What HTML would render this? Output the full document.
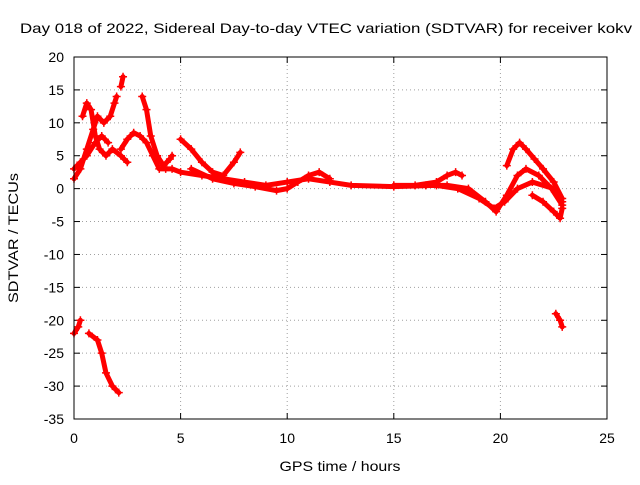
<!DOCTYPE html>
<html><head><meta charset="utf-8"><style>
body{margin:0;background:#fff;font-family:"Liberation Sans",sans-serif}
svg text{font-family:"Liberation Sans",sans-serif;font-size:14px;fill:#000}
</style></head><body>
<svg id="c" width="640" height="480">
<text x="326" y="33" text-anchor="middle" textLength="612" lengthAdjust="spacingAndGlyphs">Day 018 of 2022, Sidereal Day-to-day VTEC variation (SDTVAR) for receiver kokv</text>
<text x="340" y="471" text-anchor="middle" textLength="121" lengthAdjust="spacingAndGlyphs">GPS time / hours</text>
<text x="18" y="238" text-anchor="middle" textLength="130" lengthAdjust="spacingAndGlyphs" transform="rotate(-90 18 238)">SDTVAR / TECUs</text>
<g id="grid"></g><g id="marks"></g>
<rect x="74" y="57" width="533" height="362" fill="none" stroke="#000"/>
</svg>
<script>
const xTicks=[0,5,10,15,20,25];
const yTicks=[20,15,10,5,0,-5,-10,-15,-20,-25,-30,-35];
const trackA=[[0,1.5],[0.3,3],[0.6,6],[0.9,9],[1.1,11],[1.4,10],[1.7,11],[1.9,13],[2.0,14]];
const trackB=[[0.4,11],[0.6,13],[0.8,12],[1.0,8],[1.2,6],[1.5,5],[1.8,6],[2.2,5],[2.5,4]];
const trackC=[[2.2,15.5],[2.3,17]];
const trackD=[[0,3],[0.3,4],[0.6,5],[1,7],[1.3,8],[1.6,7]];
const trackE=[[2.2,6],[2.5,7.5],[2.8,8.5],[3.1,8],[3.4,7],[3.7,5],[4.0,3],[4.3,3],[4.6,3],[5,2.5],[6,2],[7,1.5],[8,1],[9,0.5],[10,1],[11,1.5],[12,1],[13,0.5],[15,0.3],[17,0.5],[18,0],[19,-1.5],[19.7,-3],[20.2,-2],[20.8,0],[21.5,1],[22.5,0],[22.9,-2]];
const trackF=[[3.2,14],[3.4,12],[3.6,8],[3.9,5],[4.2,3.5],[4.5,4.5],[4.6,5]];
const trackG=[[5,7.5],[5.5,6],[6,4],[6.5,2.5],[7,2],[7.5,4],[7.8,5.5]];
const trackH=[[5.5,3],[6.5,1.5],[7.5,0.8],[8.5,0.3],[9.5,-0.3],[10,0],[10.5,1],[11,2],[11.5,2.5],[12,1.5]];
const trackI=[[15,0.5],[16,0.5],[17,1],[17.5,2],[17.9,2.5],[18.2,2]];
const trackJ=[[16.5,0.5],[17.5,0.5],[18.5,0],[19.3,-2],[19.8,-3.5],[20.3,-1],[20.8,2],[21.2,3],[21.8,2],[22.4,0],[22.9,-2.5]];
const trackK=[[20.3,3.5],[20.6,6],[20.9,7],[21.2,6],[21.6,4.5],[22.0,3],[22.5,1],[22.9,-1.5]];
const trackL=[[21.5,-1],[22,-2],[22.5,-3.5],[22.8,-4.5],[22.9,-3]];
const trackM=[[0,-22],[0.2,-21],[0.3,-20]];
const trackN=[[0.7,-22],[1.1,-23],[1.3,-25],[1.5,-28],[1.8,-30],[2.1,-31]];
const trackO=[[22.6,-19],[22.8,-20],[22.9,-21]];
const tracks=[trackA,trackB,trackC,trackD,trackE,trackF,trackG,trackH,trackI,trackJ,trackK,trackL,trackM,trackN,trackO];
const X=v=>74+v*533/25, Y=v=>57+(20-v)*362/55;
const NS='http://www.w3.org/2000/svg';
const grid=document.getElementById('grid'), marks=document.getElementById('marks');
function mk(t,a,p){const e=document.createElementNS(NS,t);for(const k in a)e.setAttribute(k,a[k]);p.appendChild(e);return e;}
xTicks.forEach(t=>{
  if(t>0&&t<25){const l=mk('line',{x1:X(t),x2:X(t),y1:57,y2:419,stroke:'#a0a0a0','stroke-dasharray':'1,3'},grid);
  
  }
  mk('line',{x1:X(t),x2:X(t),y1:419,y2:413,stroke:'#000'},grid);
  mk('line',{x1:X(t),x2:X(t),y1:57,y2:63,stroke:'#000'},grid);
  const tx=mk('text',{x:X(t),y:443,'text-anchor':'middle'},grid);tx.textContent=t;
  
  
});
yTicks.forEach(t=>{
  if(t<20&&t>-35){const l=mk('line',{x1:74,x2:607,y1:Y(t),y2:Y(t),stroke:'#a0a0a0','stroke-dasharray':'1,3'},grid);
  
  }
  mk('line',{x1:74,x2:80,y1:Y(t),y2:Y(t),stroke:'#000'},grid);
  mk('line',{x1:607,x2:601,y1:Y(t),y2:Y(t),stroke:'#000'},grid);
  const tx=mk('text',{x:64,y:Y(t)+5,'text-anchor':'end'},grid);tx.textContent=t;
  
  
});
tracks.forEach(tr=>{
  const p=mk('polyline',{points:tr.map(d=>X(d[0])+','+Y(d[1])).join(' '),fill:'none',stroke:'#ff0000','stroke-width':5,'stroke-linejoin':'round','stroke-linecap':'round'},marks);
  
  
  tr.forEach(d=>{
    const g=mk('path',{d:`M${X(d[0])-4},${Y(d[1])}h8M${X(d[0])},${Y(d[1])-4}v8`,stroke:'#ff0000','stroke-width':1.5},marks);
    
    
  });
});
</script>
</body></html>
